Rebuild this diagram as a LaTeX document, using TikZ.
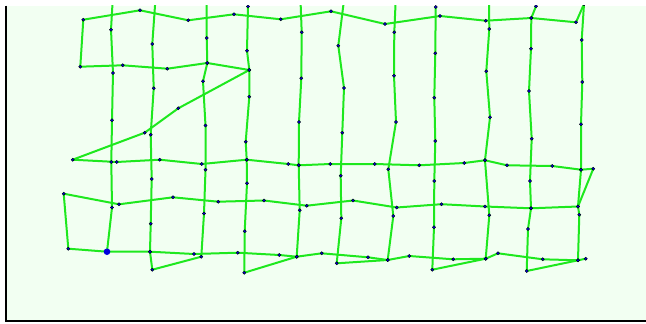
\documentclass[tikz,border=0pt]{standalone}
\definecolor{bgc}{RGB}{242,255,242}
\definecolor{meshc}{RGB}{30,232,30}
\definecolor{dotc}{RGB}{0,0,220}
\newcommand\meshdraw[1]{\edef\mymeshtmp{\noexpand\draw[meshline] plot coordinates {#1};}\mymeshtmp}
\newcommand\meshdots[1]{\edef\mymeshtmp{\noexpand\path plot[only marks,mark=*,mark size=1.6pt,mark options={draw=none,fill=dotc}] coordinates {#1};}\mymeshtmp}
\def\LRows{(584,4) (576,22.3) (531.3,18) (485.7,20.7) (440,16) (385,24) (331,11.3) (280.7,19.3) (234,14.3) (188.3,20.3) (140,10.3) (83.3,19.7) (80.3,66.7) (122.7,65.3) (167.3,68.7) (207.3,63) (249.3,70) (178.3,108.3) (144.7,132.7) (72.7,159.7) (116.7,162) (159.7,159.7) (201.7,164) (246.7,159.7) (288.3,164) (298.7,165.3) (330.3,164) (374.7,164) (419.3,165.3) (464.3,163) (485,160.3) (507,165.3) (552.3,166) (581,169.7) (593.3,168.7) (578,206.5) (531,208.3) (485,206.5) (441.5,204.2) (396.7,207.5) (353,200.5) (306.7,205.7) (264,200.5) (218.3,201.7) (173,197.3) (119,204.3) (63.7,193.7) (68.3,248.7) (107,251.7) (150,251.7) (194,254) (237.7,252.7) (279.3,255) (296.7,256.7) (321.7,253.3) (368,257.3) (387.7,260) (409.3,256) (453.3,259.3) (485.7,258.7) (498,253.3) (542.7,259.3) (578,260.3) (585.7,258.7)}
\def\LCa{(112.7,0) (111,29.7) (113,73) (112,120.3) (111.3,162) (112,207.5) (107,251.7)}
\def\LCb{(155.4,0) (152.3,44) (153.7,88.3) (150.7,134.7) (151.7,179) (150.7,223.7) (150,251.7) (152.3,269.7) (201.3,256.7) (204,213.5) (205.5,169.8) (205.5,125.5) (203,81.3) (207.3,63) (206.7,38) (206.7,0)}
\def\LCc{(248,6.5) (247,50.7) (249.3,70) (249.3,96.7) (245.7,141.7) (246.7,159.7) (247,183.3) (244.7,231.3) (244.3,272.7) (296.7,256.7) (299.7,210.3) (298.7,165.3) (299,122) (301.3,78.3) (301.7,32.3) (300.5,0)}
\def\LCd{(344,0) (338.3,45.7) (344,88) (342.3,132.7) (340.7,175.7) (341.3,218.3) (336.7,263.3) (387.7,260) (393.3,216) (388.3,169.3) (396,122) (394,75.7) (394.3,32.3) (395.7,0)}
\def\LCe{(435.7,7) (435.3,53.3) (434.3,97.7) (435.3,141) (434.3,181) (434,227.3) (432.3,269.7) (485.7,258.7) (489.3,215.3) (485,160.3) (490,117.3) (486.3,71.3) (489.3,29) (489,0)}
\def\LCf{(536,6.3) (531.3,18) (531,48.7) (529,91) (531.7,138.7) (530,181) (531,208.3) (528,229) (526.7,271) (578,260.3) (579.3,214.7) (578,206.5) (581,169.7) (581,124.3) (582.3,82) (581.7,40) (584,4)}
\begin{document}
\begin{tikzpicture}[x=1pt,y=-1pt,
  meshline/.style={meshc,line width=2pt,line join=round,line cap=round}]
\useasboundingbox (0,0) rectangle (646,324);
\fill[white] (0,0) rectangle (646,324);
\fill[bgc] (6,5.5) rectangle (646,321);
\begin{scope}
  \clip (6,5.5) rectangle (646,321);
  \meshdraw{\LRows}
  \meshdraw{\LCa}
  \meshdraw{\LCb}
  \meshdraw{\LCc}
  \meshdraw{\LCd}
  \meshdraw{\LCe}
  \meshdraw{\LCf}
  \meshdots{\LRows}
  \meshdots{\LCa}
  \meshdots{\LCb}
  \meshdots{\LCc}
  \meshdots{\LCd}
  \meshdots{\LCe}
  \meshdots{\LCf}
  \fill[dotc] (107,251.7) circle (3.3pt);
\end{scope}
\draw[black,line width=2.5pt] (5.8,5.5) -- (5.8,320.8) -- (646,320.8);
\end{tikzpicture}
\end{document}
